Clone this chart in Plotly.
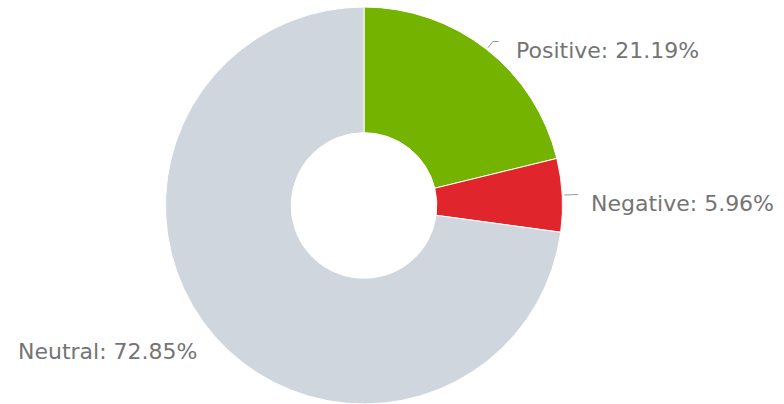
import math
import plotly.graph_objects as go

labels = ["Positive", "Negative", "Neutral"]
values = [21.19, 5.96, 72.85]
colors = ["#74b300", "#e0262c", "#d0d6de"]

W, H = 784, 404
M_TOP, M_BOT = 7, 0
plot_h = H - M_TOP - M_BOT
cx = 364
R = plot_h / 2
cy = M_TOP + R
hole = 0.367

fig = go.Figure(go.Pie(
    labels=labels, values=values, sort=False, direction="clockwise", rotation=0,
    hole=hole, marker=dict(colors=colors, line=dict(color="#ffffff", width=1)),
    textinfo="none", hoverinfo="label+percent", showlegend=False,
    domain=dict(x=[(cx - R) / W, (cx + R) / W], y=[0, 1]),
))

def px_to_paper(x, y):
    return x / W, (H - M_BOT - y) / plot_h

def seg(p0, p1):
    x0, y0 = px_to_paper(*p0)
    x1, y1 = px_to_paper(*p1)
    return dict(type="line", xref="paper", yref="paper", x0=x0, y0=y0, x1=x1, y1=y1,
                line=dict(color="#9a9a9a", width=1))

total = sum(values)
cum = 0.0
annotations = []
shapes = []
for lab, v in zip(labels, values):
    mid = (cum + v / 2) / total * 2 * math.pi
    cum += v
    s, c = math.sin(mid), math.cos(mid)
    ex = cx + R * s
    ey = cy - R * c
    right = s >= 0
    txt = f"{lab}: {v:.2f}%"
    ly = cy - (R + 10) * c + 9
    if right:
        tx = ex + 27
        p0 = (cx + (R + 2) * s, cy - (R + 2) * c)
        p1 = (cx + (R + 10) * s, cy - (R + 10) * c)
        p2 = (p1[0] + 6, p1[1])
        shapes.append(seg(p0, p1))
        shapes.append(seg(p1, p2))
    else:
        tx = ex - 14
    ax, ay = px_to_paper(tx, ly)
    annotations.append(dict(
        x=ax, y=ay, xref="paper", yref="paper", text=txt, showarrow=False,
        xanchor="left" if right else "right", yanchor="middle",
        font=dict(family="DejaVu Sans", size=22, color="#747474"),
    ))

fig.update_layout(
    width=W, height=H, margin=dict(l=0, r=0, t=M_TOP, b=M_BOT),
    paper_bgcolor="#ffffff", plot_bgcolor="#ffffff",
    annotations=annotations, shapes=shapes,
)
fig.write_html("out.html", config={"displayModeBar": False},
               post_script="document.body.style.margin='0';")
